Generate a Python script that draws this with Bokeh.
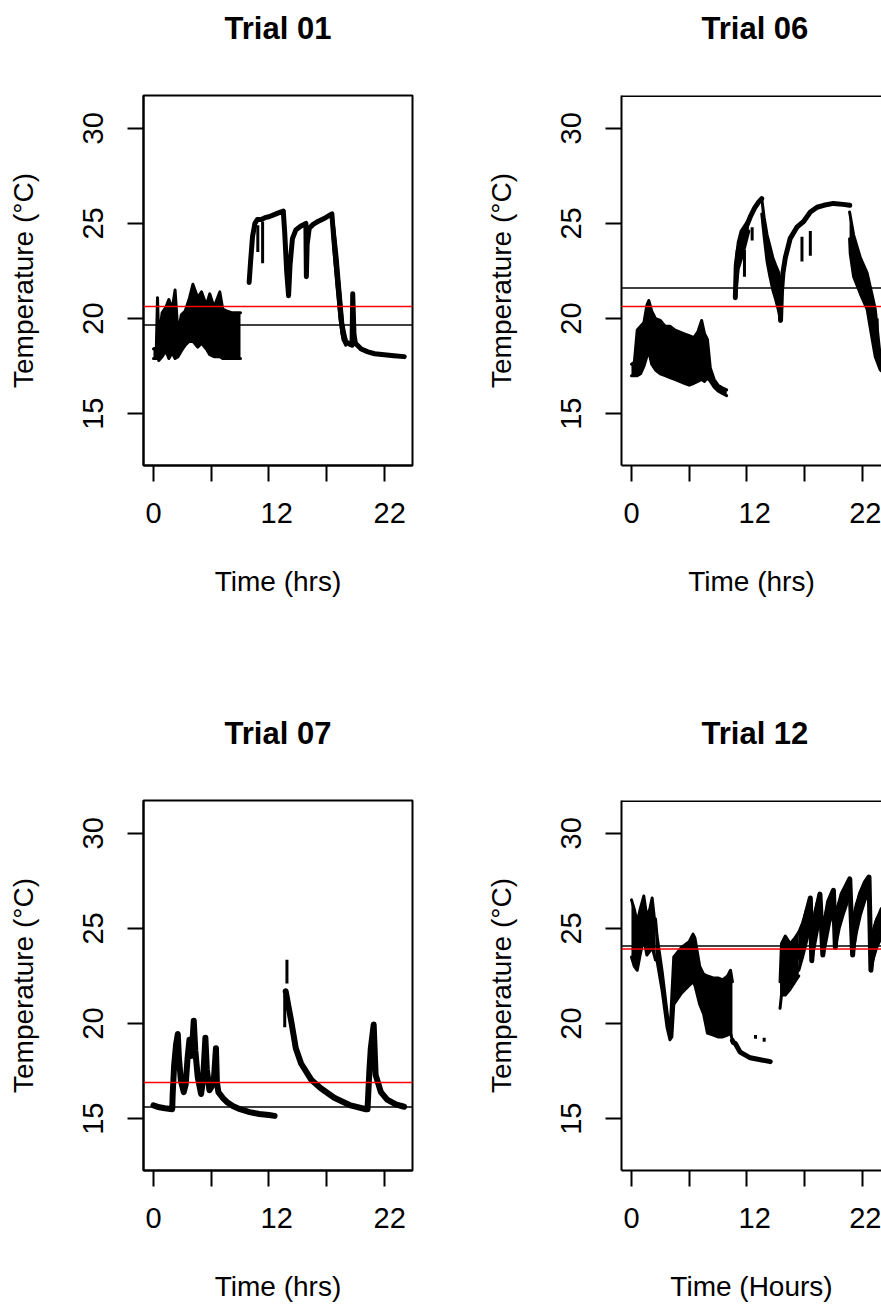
from bokeh.plotting import figure
from bokeh.models import Range1d, FixedTicker, Span, Title
from bokeh.layouts import column, row
from bokeh.embed import file_html
from bokeh.resources import INLINE

FONT = "Liberation Sans"

# ---------------- axes data ----------------
Y_LIM = [13, 31]
X_LIM = [0, 25.9]
Y_TICKS = [15, 20, 25, 30]
X_TICK_MARKS = [0, 6, 12, 18, 24]
X_LABEL_POS = [0, 12.81, 24.57]
X_LABEL_TEXT = ["0", "12", "22"]

TITLES = ["Trial 01", "Trial 06", "Trial 07", "Trial 12"]
XLABELS = ["Time (hrs)", "Time (hrs)", "Time (hrs)", "Time (Hours)"]
YLABEL = "Temperature (°C)"

BLACK_LINE = [19.66, 21.6, 15.61, 24.08]
RED_LINE = [20.64, 20.64, 16.91, 23.92]

# ---------------- Trial 01 ----------------
T01_BAND_X = [0.0, 0.3, 0.42, 0.55, 0.9, 1.3, 1.6, 1.95, 2.25, 2.55, 2.9, 3.3, 3.7, 4.1, 4.6, 5.0, 5.5, 5.85, 6.3, 6.9, 7.2, 7.6, 8.2, 9.05]
T01_BAND_HI = [18.4, 18.5, 21.1, 18.9, 20.3, 20.6, 21.0, 20.5, 21.5, 19.2, 20.2, 20.4, 21.0, 21.8, 21.1, 21.4, 20.7, 21.3, 20.6, 21.4, 20.5, 20.4, 20.3, 20.3]
T01_BAND_LO = [17.9, 17.9, 18.2, 17.8, 18.0, 18.3, 17.9, 18.2, 17.9, 18.0, 18.3, 18.6, 18.8, 18.8, 18.5, 18.7, 18.4, 18.1, 18.0, 18.0, 17.9, 17.9, 17.9, 17.9]
T01_LINE_X = [9.95, 10.1, 10.3, 10.55, 10.8, 11.2, 11.6, 12.0, 12.5, 13.0, 13.5, 13.65, 13.85, 14.05, 14.2, 14.45, 14.8, 15.3, 15.85, 15.9, 15.98, 16.2, 16.6, 17.1, 17.9, 18.55, 18.75, 19.0, 19.3, 19.5, 19.7, 20.0, 20.4, 20.65, 20.72, 20.85, 21.0, 21.6, 22.3, 23.0, 24.0, 25.0, 26.08]
T01_LINE_Y = [21.9, 23.0, 24.3, 25.0, 25.2, 25.2, 25.3, 25.35, 25.45, 25.55, 25.65, 24.5, 22.5, 21.2, 22.8, 24.2, 24.65, 24.85, 25.0, 22.2, 23.9, 24.75, 24.95, 25.1, 25.3, 25.5, 24.2, 22.8, 21.2, 20.0, 19.2, 18.8, 18.65, 18.6, 21.3, 19.2, 18.7, 18.4, 18.25, 18.15, 18.1, 18.05, 18.0]
T01_DROP_X = [18.55, 18.8, 19.1, 19.4, 19.7, 20.0]
T01_DROP_HI = [25.5, 24.6, 23.2, 21.4, 19.7, 18.95]
T01_DROP_LO = [25.2, 23.4, 21.6, 20.0, 18.9, 18.6]
T01_STREAK_X = [10.85, 11.35]
T01_STREAK_Y0 = [24.9, 25.1]
T01_STREAK_Y1 = [23.5, 22.9]

# ---------------- Trial 06 ----------------
T06_BAND1_X = [0.0, 0.3, 0.6, 0.95, 1.3, 1.6, 1.8, 2.1, 2.5, 3.0, 3.5, 4.0, 4.5, 5.0, 5.5, 6.0, 6.5, 6.9, 7.3, 7.6, 7.9, 8.2, 8.6, 9.0, 9.5, 9.9]
T06_BAND1_HI = [17.6, 17.7, 19.4, 19.6, 19.8, 20.7, 20.95, 20.4, 20.0, 19.9, 19.6, 19.6, 19.4, 19.3, 19.2, 19.1, 19.0, 19.3, 19.9, 19.2, 18.9, 17.4, 16.8, 16.5, 16.35, 16.25]
T06_BAND1_LO = [17.0, 17.0, 17.0, 17.1, 17.5, 18.0, 18.3, 17.6, 17.3, 17.1, 17.0, 16.9, 16.8, 16.7, 16.6, 16.5, 16.6, 16.7, 16.8, 16.7, 16.9, 16.7, 16.4, 16.2, 16.05, 15.95]
T06_BAND2_X = [10.8, 11.1, 11.4, 11.8, 12.2]
T06_BAND2_LO = [21.1, 22.6, 23.1, 23.8, 24.6]
T06_BAND2_HI = [22.6, 24.0, 24.6, 24.9, 25.2]
T06_LINE1_X = [10.8, 10.9, 11.1, 11.4, 11.7, 12.0, 12.4, 12.8, 13.2, 13.55]
T06_LINE1_Y = [21.1, 22.8, 23.6, 24.1, 24.5, 24.9, 25.4, 25.8, 26.1, 26.3]
T06_BAND3_X = [13.55, 13.8, 14.1, 14.4, 14.7, 15.0, 15.25, 15.5]
T06_BAND3_HI = [26.3, 25.3, 24.4, 23.8, 23.2, 22.8, 22.5, 22.0]
T06_BAND3_LO = [25.5, 24.3, 23.0, 22.2, 21.5, 21.0, 20.5, 19.9]
T06_LINE2_X = [15.5, 15.6, 15.75, 16.0, 16.5, 17.2, 17.9, 18.6, 19.3, 20.0, 21.0, 22.0, 22.7]
T06_LINE2_Y = [19.9, 21.4, 22.4, 23.2, 24.2, 24.8, 25.1, 25.6, 25.85, 25.95, 26.05, 26.0, 25.95]
T06_BAND4_X = [22.68, 22.75, 23.1, 23.8, 24.5, 25.0, 25.35, 25.87, 26.1]
T06_BAND4_HI = [25.6, 25.4, 24.4, 23.2, 22.4, 21.3, 20.5, 18.0, 17.6]
T06_BAND4_LO = [24.2, 23.4, 22.2, 21.3, 20.5, 19.0, 18.0, 17.3, 17.2]
T06_STREAK_X = [11.75, 12.55, 17.73, 18.6, 25.55]
T06_STREAK_Y0 = [23.6, 24.8, 24.3, 24.6, 20.0]
T06_STREAK_Y1 = [22.2, 24.1, 23.0, 23.3, 18.7]

# ---------------- Trial 07 ----------------
T07_LINE1_X = [0.0, 0.6, 1.2, 1.95, 2.0, 2.15, 2.35, 2.53, 2.65, 2.85, 3.15, 3.35, 3.55, 3.74, 3.9, 4.05, 4.19, 4.35, 4.6, 4.95, 5.15, 5.4, 5.55, 5.82, 6.05, 6.3, 6.5, 6.6, 6.75, 7.2, 7.7, 8.3, 9.0, 10.0, 11.0, 12.0, 12.6]
T07_LINE1_Y = [15.7, 15.6, 15.55, 15.5, 16.3, 17.8, 18.9, 19.45, 18.2, 17.0, 16.4, 16.8, 18.2, 19.15, 18.3, 19.0, 20.15, 18.6, 17.2, 16.3, 17.0, 19.25, 17.6, 16.5, 16.7, 17.2, 18.7, 16.9, 16.4, 16.1, 15.85, 15.65, 15.5, 15.35, 15.25, 15.2, 15.15]
T07_LINE2_X = [13.75, 14.0, 14.3, 14.8, 15.35, 16.4, 17.4, 18.8, 20.5, 22.1, 22.26, 22.45, 22.6, 22.9, 23.1, 23.65, 24.3, 25.2, 26.07]
T07_LINE2_Y = [21.7, 21.0, 20.2, 18.7, 17.9, 17.05, 16.6, 16.1, 15.7, 15.5, 15.5, 17.5, 18.7, 19.95, 17.3, 16.4, 16.0, 15.75, 15.63]
T07_STREAK_X = [13.65, 13.88]
T07_STREAK_Y0 = [19.8, 22.1]
T07_STREAK_Y1 = [21.5, 23.35]

# ---------------- Trial 12 ----------------
T12_BAND1_X = [0.0, 0.3, 0.6, 0.9, 1.28, 1.6, 1.9, 2.15, 2.5]
T12_BAND1_HI = [26.5, 26.0, 25.3, 26.0, 26.7, 25.6, 26.0, 26.6, 25.0]
T12_BAND1_LO = [23.5, 23.0, 22.8, 23.6, 24.5, 23.6, 23.8, 24.0, 23.35]
T12_BAND2_X = [2.5, 2.66, 3.2, 3.7, 4.0, 4.2, 4.4, 5.2, 6.0, 6.4, 6.6, 7.1, 7.5, 7.9, 8.5, 9.0, 9.5, 10.0, 10.3, 10.5]
T12_BAND2_HI = [25.5, 24.6, 22.7, 20.6, 19.4, 21.5, 23.5, 24.0, 24.3, 24.7, 24.5, 23.0, 22.6, 22.5, 22.4, 22.4, 22.3, 22.5, 22.8, 22.2]
T12_BAND2_LO = [23.35, 23.3, 21.7, 19.8, 19.15, 19.3, 21.0, 21.6, 22.0, 22.2, 22.0, 21.0, 20.5, 19.5, 19.4, 19.3, 19.3, 19.4, 19.5, 19.1]
T12_LINE1_X = [10.5, 10.6, 10.8, 11.3, 12.35, 13.4, 14.43]
T12_LINE1_Y = [19.1, 19.0, 18.95, 18.5, 18.2, 18.1, 18.0]
T12_BAND3_X = [15.45, 15.6, 16.0, 16.5, 17.0, 17.4]
T12_BAND3_LO = [20.8, 21.5, 21.5, 21.8, 22.2, 22.5]
T12_BAND3_HI = [22.2, 24.2, 24.6, 24.2, 24.5, 24.8]
T12_LINE2_X = [17.4, 17.8, 18.2, 18.6, 18.75, 18.9, 19.2, 19.6, 19.9, 20.1, 20.5, 21.0, 21.2, 21.4, 21.9, 22.3, 22.7, 23.0, 23.3, 23.8, 24.3, 24.7, 24.9, 25.1, 25.5, 26.05]
T12_LINE2_Y = [23.5, 24.8, 25.8, 26.6, 23.3, 24.5, 25.9, 26.8, 23.6, 25.2, 26.4, 27.0, 24.0, 25.8, 26.8, 27.2, 27.6, 23.6, 25.6, 26.8, 27.4, 27.7, 22.8, 24.3, 25.3, 26.0]
T12_TEETH_X = [[17.4, 17.8, 18.2, 18.6], [18.75, 19.0, 19.3, 19.6], [19.95, 20.3, 20.6, 21.0],
               [21.2, 21.6, 22.0, 22.4, 22.7], [23.0, 23.4, 23.8, 24.3, 24.7], [24.9, 25.2, 25.5, 26.05]]
T12_TEETH_HI = [[24.8, 25.3, 26.0, 26.6], [24.6, 25.6, 26.3, 26.8], [25.2, 26.0, 26.6, 27.0],
                [25.6, 26.4, 26.9, 27.3, 27.6], [25.4, 26.3, 26.9, 27.4, 27.7], [24.5, 25.0, 25.5, 26.0]]
T12_TEETH_LO = [[22.8, 23.5, 24.3, 25.2], [23.3, 24.0, 24.8, 25.6], [23.6, 24.5, 25.3, 25.9],
                [24.0, 25.0, 25.7, 26.3, 26.8], [23.6, 24.8, 25.7, 26.5, 26.9], [22.8, 23.5, 24.0, 24.6]]
T12_STREAK_X = [12.9, 13.8]
T12_STREAK_Y0 = [19.4, 19.25]
T12_STREAK_Y1 = [19.2, 19.05]

# ---------------- layout ----------------
CELL_W = 478
CELL_H = 705
PAGE_W = 881
PAGE_H = 1306
M_LEFT, M_RIGHT, M_TOP, M_BOTTOM = 143, 66, 95, 240


def r_range(lim):
    pad = 0.04 * (lim[1] - lim[0])
    return lim[0] - pad, lim[1] + pad


X0, X1 = r_range(X_LIM)
Y0, Y1 = r_range(Y_LIM)
PX_PER_DEG = (CELL_H - M_TOP - M_BOTTOM) / (Y1 - Y0)


def band(p, x, lo, hi):
    p.varea(x=x, y1=lo, y2=hi, fill_color="black")
    p.line(x, lo, line_width=3, color="black", line_join="round", line_cap="round")
    p.line(x, hi, line_width=3, color="black", line_join="round", line_cap="round")


def trace(p, x, y, w=5):
    p.line(x, y, line_width=w, color="black", line_join="round", line_cap="round")


def streaks(p, x, y0, y1):
    p.segment(x0=x, y0=y0, x1=x, y1=y1, line_width=3, color="black")


def make_panel(i, width, height, right_col, bottom_row):
    frame_w_full = CELL_W - M_LEFT - M_RIGHT
    if right_col:
        frame_w = width - M_LEFT
        x_end = X0 + (X1 - X0) * frame_w / frame_w_full
        mr = 0
    else:
        x_end = X1
        mr = M_RIGHT
    mb = M_BOTTOM - (CELL_H - height)
    p = figure(width=width, height=height, x_range=Range1d(X0, x_end), y_range=Range1d(Y0, Y1),
               output_backend="svg", toolbar_location=None, title=None,
               min_border_left=M_LEFT, min_border_right=mr, min_border_top=M_TOP, min_border_bottom=mb)
    p.grid.visible = False
    p.background_fill_color = "white"
    p.border_fill_color = "white"
    if right_col:
        # the R box is cut by the page edge: only its top edge shows on this side
        p.outline_line_color = None
        p.add_layout(Span(location=Y1 - 0.6 / PX_PER_DEG, dimension="width",
                          line_color="black", line_width=2))
    else:
        p.outline_line_color = "black"
        p.outline_line_width = 2

    # spacer between frame and title, then the title itself (further from frame)
    p.add_layout(Title(text=" ", text_font_size="2px", standoff=46), "above")
    t = Title(text=TITLES[i], text_font=FONT, text_font_size="31px", text_font_style="bold",
              text_color="black", standoff=0)
    if right_col:
        t.align = "left"
        t.offset = 80
    else:
        t.align = "center"
    p.add_layout(t, "above")

    xa = p.xaxis[0]
    xa.ticker = FixedTicker(ticks=X_LABEL_POS, minor_ticks=X_TICK_MARKS)
    xa.major_label_overrides = {pos: txt for pos, txt in zip(X_LABEL_POS, X_LABEL_TEXT)}
    xa.major_tick_out = 0
    xa.major_tick_in = 0
    xa.minor_tick_out = 16
    xa.minor_tick_in = 0
    xa.minor_tick_line_color = "black"
    xa.minor_tick_line_width = 2
    xa.axis_line_color = "black"
    xa.axis_line_width = 2
    xa.major_label_text_font = FONT
    xa.major_label_text_font_size = "29px"
    xa.major_label_text_color = "black"
    xa.major_label_standoff = 21
    xa.axis_label = XLABELS[i]
    xa.axis_label_text_font = FONT
    xa.axis_label_text_font_size = "28px"
    xa.axis_label_text_font_style = "normal"
    xa.axis_label_text_color = "black"
    xa.axis_label_standoff = 40

    ya = p.yaxis[0]
    ya.ticker = FixedTicker(ticks=Y_TICKS)
    ya.major_tick_out = 16
    ya.major_tick_in = 0
    ya.major_tick_line_width = 2
    ya.minor_tick_out = 0
    ya.minor_tick_in = 0
    ya.axis_line_color = "black"
    ya.axis_line_width = 2
    ya.major_label_orientation = "vertical"
    ya.major_label_text_font = FONT
    ya.major_label_text_font_size = "29px"
    ya.major_label_text_color = "black"
    ya.major_label_standoff = 24
    ya.axis_label = YLABEL
    ya.axis_label_text_font = FONT
    ya.axis_label_text_font_size = "28px"
    ya.axis_label_text_font_style = "normal"
    ya.axis_label_text_color = "black"
    ya.axis_label_standoff = 42
    return p


p1 = make_panel(0, CELL_W, CELL_H, False, False)
p2 = make_panel(1, PAGE_W - CELL_W, CELL_H, True, False)
p3 = make_panel(2, CELL_W, PAGE_H - CELL_H, False, True)
p4 = make_panel(3, PAGE_W - CELL_W, PAGE_H - CELL_H, True, True)

# Trial 01
band(p1, T01_BAND_X, T01_BAND_LO, T01_BAND_HI)
trace(p1, T01_LINE_X, T01_LINE_Y)
band(p1, T01_DROP_X, T01_DROP_LO, T01_DROP_HI)
streaks(p1, T01_STREAK_X, T01_STREAK_Y0, T01_STREAK_Y1)

# Trial 06
band(p2, T06_BAND1_X, T06_BAND1_LO, T06_BAND1_HI)
band(p2, T06_BAND2_X, T06_BAND2_LO, T06_BAND2_HI)
trace(p2, T06_LINE1_X, T06_LINE1_Y)
band(p2, T06_BAND3_X, T06_BAND3_LO, T06_BAND3_HI)
trace(p2, T06_LINE2_X, T06_LINE2_Y)
band(p2, T06_BAND4_X, T06_BAND4_LO, T06_BAND4_HI)
streaks(p2, T06_STREAK_X, T06_STREAK_Y0, T06_STREAK_Y1)

# Trial 07
trace(p3, T07_LINE1_X, T07_LINE1_Y, w=6)
trace(p3, T07_LINE2_X, T07_LINE2_Y, w=6)
streaks(p3, T07_STREAK_X, T07_STREAK_Y0, T07_STREAK_Y1)

# Trial 12
band(p4, T12_BAND1_X, T12_BAND1_LO, T12_BAND1_HI)
band(p4, T12_BAND2_X, T12_BAND2_LO, T12_BAND2_HI)
trace(p4, T12_LINE1_X, T12_LINE1_Y)
band(p4, T12_BAND3_X, T12_BAND3_LO, T12_BAND3_HI)
for tx, tlo, thi in zip(T12_TEETH_X, T12_TEETH_LO, T12_TEETH_HI):
    band(p4, tx, tlo, thi)
trace(p4, T12_LINE2_X, T12_LINE2_Y, w=5)
streaks(p4, T12_STREAK_X, T12_STREAK_Y0, T12_STREAK_Y1)

for p, b, r in zip([p1, p2, p3, p4], BLACK_LINE, RED_LINE):
    p.add_layout(Span(location=b, dimension="width", line_color="black", line_width=1.5))
    p.add_layout(Span(location=r, dimension="width", line_color="red", line_width=1.5))

layout = column(row(p1, p2), row(p3, p4))
open("out.html", "w").write(file_html(layout, INLINE))
